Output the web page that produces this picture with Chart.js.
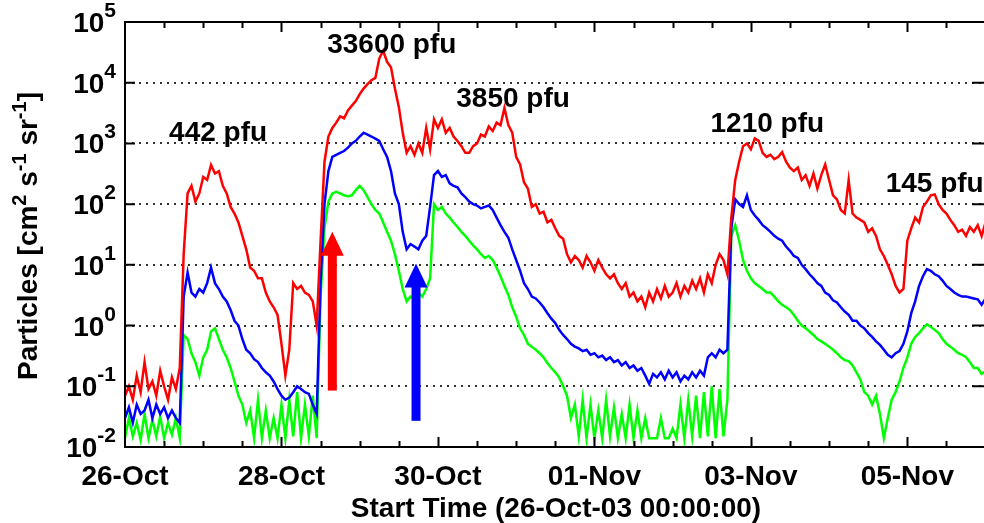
<!DOCTYPE html>
<html>
<head>
<meta charset="utf-8">
<script src="https://cdn.jsdelivr.net/npm/chart.js@4/dist/chart.umd.min.js"></script>
<style>
  html, body { margin: 0; padding: 0; background: #fff; }
  #chart { display: block; }
</style>
</head>
<body>
<canvas id="chart" width="984" height="523"></canvas>
<script>
// sample times, in days after 26-Oct-03 00:00
const sampleDays = [
  0.00,0.05,0.10,0.15,0.20,0.25,0.30,0.35,0.40,0.45,0.50,0.55,0.60,0.65,0.70,0.75,0.80,0.85,0.90,0.95,
  1.00,1.05,1.10,1.15,1.20,1.25,1.30,1.35,1.40,1.45,1.50,1.55,1.60,1.65,1.70,1.75,1.80,1.85,1.90,1.95,
  2.00,2.05,2.10,2.15,2.20,2.25,2.30,2.35,2.40,2.45,2.50,2.55,2.60,2.65,2.70,2.75,2.80,2.85,2.90,2.95,
  3.00,3.05,3.10,3.15,3.20,3.25,3.30,3.35,3.40,3.45,3.50,3.55,3.60,3.65,3.70,3.75,3.80,3.85,3.90,3.95,
  4.00,4.05,4.10,4.15,4.20,4.25,4.30,4.35,4.40,4.45,4.50,4.55,4.60,4.65,4.70,4.75,4.80,4.85,4.90,4.95,
  5.00,5.05,5.10,5.15,5.20,5.25,5.30,5.35,5.40,5.45,5.50,5.55,5.60,5.65,5.70,5.75,5.80,5.85,5.90,5.95,
  6.00,6.05,6.10,6.15,6.20,6.25,6.30,6.35,6.40,6.45,6.50,6.55,6.60,6.65,6.70,6.75,6.80,6.85,6.90,6.95,
  7.00,7.05,7.10,7.15,7.20,7.25,7.30,7.35,7.40,7.45,7.50,7.55,7.60,7.65,7.70,7.75,7.80,7.85,7.90,7.95,
  8.00,8.05,8.10,8.15,8.20,8.25,8.30,8.35,8.40,8.45,8.50,8.55,8.60,8.65,8.70,8.75,8.80,8.85,8.90,8.95,
  9.00,9.05,9.10,9.15,9.20,9.25,9.30,9.35,9.40,9.45,9.50,9.55,9.60,9.65,9.70,9.75,9.80,9.85,9.90,9.95,
  10.00,10.05,10.10,10.15,10.20,10.25,10.30,10.35,10.40,10.45,10.50,10.55,10.60,10.65,10.70,10.75,10.80,10.85,10.90,10.95,
  11.00
];

// particle flux, cm-2 s-1 sr-1 (red = >10 MeV, blue, green = higher energies)
const redFlux = [
  0.07,0.1,0.06,0.15,0.08,0.25,0.09,0.12,0.07,0.18,0.1,0.06,0.14,0.09,0.2,15,150,200,110,150,
  280,250,442,320,350,200,150,90,70,50,30,18,9,8,6,6,3.5,2.5,2,1.5,
  0.5,0.15,0.4,5,4,4.5,3.5,3.2,2.5,1,25,500,1300,1800,2200,2800,2600,3500,4200,5000,
  6500,8000,9500,11000,12000,25000,33600,22000,18000,8000,4000,1500,700,900,650,1000,700,1800,800,2500,
  1800,2500,1500,1800,1300,1100,900,700,700,900,1000,1400,1300,1900,1600,2200,2000,3850,2000,1500,
  600,450,230,180,90,100,70,75,50,55,40,30,27,15,11,14,12,9,14,11,
  8,12,9,7,6,7,5,4,5,3,3.5,2.5,3,2,3.5,2.5,4,2.8,4.5,3,
  3.5,5,3,4.5,3.5,5.5,4,6,3.5,7,5,10,15,12,7,60,250,500,900,1000,
  800,1210,1100,700,600,650,550,600,720,500,400,350,400,250,300,200,320,180,300,450,
  250,140,120,80,70,250,70,60,55,50,35,40,30,18,14,10,7,4.5,3.5,4,
  25,40,60,50,90,110,140,145,100,80,70,55,45,35,38,30,42,35,45,30,
  50
];

const blueFlux = [
  0.03,0.045,0.025,0.05,0.035,0.04,0.06,0.03,0.05,0.035,0.045,0.03,0.04,0.03,0.025,3,7.5,3.5,3,4,
  3.5,5,9,5,4,3,2.5,1.8,1.2,1,0.6,0.4,0.35,0.28,0.25,0.2,0.17,0.15,0.12,0.09,
  0.07,0.06,0.065,0.08,0.1,0.09,0.08,0.075,0.05,0.035,5,100,350,600,650,700,750,850,1000,1100,
  1300,1500,1400,1300,1200,1100,800,600,350,150,100,35,18,22,20,18,25,30,90,300,
  350,280,300,220,200,190,150,130,110,100,95,85,90,95,80,60,45,35,28,18,
  12,8,5,4,3,2.8,2.4,2,1.6,1.3,1.1,0.85,0.7,0.6,0.5,0.45,0.42,0.38,0.4,0.33,
  0.35,0.3,0.32,0.27,0.3,0.25,0.27,0.22,0.25,0.2,0.22,0.18,0.2,0.15,0.11,0.16,0.14,0.17,0.13,0.18,
  0.14,0.17,0.12,0.15,0.13,0.17,0.14,0.18,0.15,0.3,0.35,0.3,0.4,0.35,0.4,40,120,100,90,140,
  80,65,55,45,40,35,30,27,25,20,17,14,13,10,8.5,7,6,5,4.5,3.5,
  3.2,2.6,2.4,2,1.7,1.5,1.2,1.2,1,0.9,0.75,0.65,0.55,0.48,0.4,0.33,0.3,0.35,0.38,0.5,
  0.8,1.6,2.5,4.5,6.5,8.5,8,7,6.5,5.5,4.5,4,3.5,3.2,3,3,2.9,2.8,2.7,2.2,
  2.8
];

const greenFlux = [
  0.014,0.03,0.015,0.025,0.013,0.035,0.014,0.028,0.015,0.032,0.014,0.025,0.016,0.03,0.014,0.7,0.6,0.35,0.25,0.15,
  0.3,0.4,0.8,0.9,0.6,0.4,0.3,0.2,0.12,0.07,0.05,0.025,0.04,0.014,0.06,0.014,0.04,0.014,0.03,0.014,
  0.05,0.014,0.06,0.015,0.08,0.014,0.05,0.015,0.07,0.014,3,40,110,150,160,150,140,135,140,170,
  200,170,130,100,80,70,50,35,25,15,8,4,2.5,3,2.8,3.5,3,4,6,100,
  80,90,70,60,50,42,35,30,25,21,18,15,13,14,12,9,6.5,4.5,3.2,2,
  1.4,0.9,0.7,0.5,0.45,0.4,0.35,0.3,0.24,0.2,0.17,0.14,0.1,0.07,0.03,0.05,0.015,0.06,0.014,0.05,
  0.014,0.04,0.014,0.06,0.015,0.045,0.014,0.035,0.014,0.05,0.014,0.04,0.014,0.03,0.014,0.014,0.014,0.03,0.014,0.014,
  0.02,0.014,0.05,0.014,0.06,0.015,0.07,0.014,0.08,0.015,0.1,0.014,0.09,0.015,0.06,30,45,25,12,8,
  6,5,4.5,4,3.5,3.5,3,2.5,2.2,2,1.8,1.5,1.2,1,0.9,0.8,0.7,0.6,0.55,0.5,
  0.45,0.4,0.35,0.3,0.27,0.26,0.22,0.17,0.13,0.08,0.07,0.05,0.07,0.035,0.014,0.03,0.06,0.08,0.12,0.2,
  0.3,0.5,0.65,0.75,0.9,1.05,0.95,0.85,0.75,0.6,0.5,0.45,0.4,0.35,0.33,0.3,0.25,0.2,0.2,0.16,
  0.18
];

// axes
const xTickDays = [0, 2, 4, 6, 8, 10];
const xTickLabels = ['26-Oct', '28-Oct', '30-Oct', '01-Nov', '03-Nov', '05-Nov'];
const yTickValues = [1e-2, 1e-1, 1, 10, 100, 1e3, 1e4, 1e5];

// peak flux labels (anchor: centre x, baseline y)
const peakLabels = ['442 pfu', '33600 pfu', '3850 pfu', '1210 pfu', '145 pfu'];
const peakDays = [1.19, 3.41, 4.96, 8.21, 10.35];
const peakFlux = [1080, 30700, 4040, 1570, 157];

// arrows
const arrowDays = [2.65, 3.72];
const arrowFrom = [0.085, 0.027];
const arrowTo = [35, 10.5];
const arrowColors = ['#ff0000', '#0000ff'];

const FONT = '"Liberation Sans", Arial, Helvetica, sans-serif';

function toPoints(vals) {
  return sampleDays.map((d, i) => ({ x: d, y: vals[i] }));
}

function text(ctx, str, x, y, size, align) {
  ctx.font = 'bold ' + size + 'px ' + FONT;
  ctx.textAlign = align || 'left';
  ctx.textBaseline = 'alphabetic';
  ctx.fillStyle = '#000';
  ctx.fillText(str, x, y);
}

const decorations = {
  id: 'decorations',
  afterDatasetsDraw(chart) {
    const ctx = chart.ctx;
    const xs = chart.scales.x, ys = chart.scales.y;
    ctx.save();
    // arrows
    arrowDays.forEach((d, i) => {
      const cx = xs.getPixelForValue(d);
      const yb = ys.getPixelForValue(arrowFrom[i]);
      const yt = ys.getPixelForValue(arrowTo[i]);
      const headLen = 24, headW = 23, shaftW = 9;
      ctx.fillStyle = arrowColors[i];
      ctx.fillRect(cx - shaftW / 2, yt + headLen - 1, shaftW, yb - yt - headLen + 1);
      ctx.beginPath();
      ctx.moveTo(cx, yt);
      ctx.lineTo(cx + headW / 2, yt + headLen);
      ctx.lineTo(cx - headW / 2, yt + headLen);
      ctx.closePath();
      ctx.fill();
    });
    ctx.restore();
  },
  afterDraw(chart) {
    const ctx = chart.ctx;
    const a = chart.chartArea;
    const xs = chart.scales.x, ys = chart.scales.y;
    ctx.save();
    ctx.strokeStyle = '#000';
    ctx.lineWidth = 2;
    // frame
    ctx.beginPath();
    ctx.moveTo(a.right + 2, a.top);
    ctx.lineTo(a.left, a.top);
    ctx.lineTo(a.left, a.bottom);
    ctx.lineTo(a.right + 2, a.bottom);
    ctx.stroke();
    // x ticks, every 12 h, longer every 2 days
    ctx.beginPath();
    for (let h = 12; h <= 11 * 24; h += 12) {
      const px = Math.round(xs.getPixelForValue(h / 24)) + 0.5;
      if (px > a.right) break;
      const len = (h % 48 === 0) ? 10 : 6;
      ctx.moveTo(px, a.bottom);
      ctx.lineTo(px, a.bottom - len);
      ctx.moveTo(px, a.top);
      ctx.lineTo(px, a.top + len);
    }
    // y ticks, both sides
    yTickValues.forEach(v => {
      const py = ys.getPixelForValue(v);
      ctx.moveTo(a.left, py);
      ctx.lineTo(a.left + 10, py);
      ctx.moveTo(a.right, py);
      ctx.lineTo(a.right - 12, py);
    });
    ctx.stroke();

    // x tick labels
    xTickDays.forEach((d, i) => {
      text(ctx, xTickLabels[i], xs.getPixelForValue(d), 485, 28, 'center');
    });
    // y tick labels 10^n
    yTickValues.forEach(v => {
      const py = ys.getPixelForValue(v);
      const exp = String(Math.round(Math.log10(v)));
      ctx.font = 'bold 21px ' + FONT;
      const we = ctx.measureText(exp).width;
      const right = 116;
      text(ctx, exp, right, py - 5, 21, 'right');
      text(ctx, '10', right - we, py + 10, 28, 'right');
    });
    // axis titles
    text(ctx, 'Start Time (26-Oct-03 00:00:00)', 556, 517, 28, 'center');

    const parts = [['Particles [cm', 0], ['2', 1], [' s', 0], ['-1', 1], [' sr', 0], ['-1', 1], [']', 0]];
    let total = 0;
    parts.forEach(p => {
      ctx.font = 'bold ' + (p[1] ? 20 : 28) + 'px ' + FONT;
      total += ctx.measureText(p[0]).width;
    });
    ctx.save();
    ctx.translate(37, 236);
    ctx.rotate(-Math.PI / 2);
    let pos = -total / 2;
    parts.forEach(p => {
      const size = p[1] ? 20 : 28;
      text(ctx, p[0], pos, p[1] ? -11 : 0, size, 'left');
      pos += ctx.measureText(p[0]).width;
    });
    ctx.restore();

    // peak labels
    peakLabels.forEach((s, i) => {
      text(ctx, s, xs.getPixelForValue(peakDays[i]), ys.getPixelForValue(peakFlux[i]), 28, 'center');
    });
    ctx.restore();
  }
};

Chart.defaults.font.family = FONT;

new Chart(document.getElementById('chart'), {
  type: 'line',
  data: {
    datasets: [
      { label: 'red', data: toPoints(redFlux), borderColor: '#ff0000' },
      { label: 'blue', data: toPoints(blueFlux), borderColor: '#0000ff' },
      { label: 'green', data: toPoints(greenFlux), borderColor: '#00ff00' }
    ]
  },
  options: {
    responsive: false,
    animation: false,
    devicePixelRatio: 1,
    layout: { padding: { left: 125, right: 0, top: 22, bottom: 76 } },
    elements: {
      line: { borderWidth: 2.5, tension: 0, fill: false },
      point: { radius: 0 }
    },
    plugins: { legend: { display: false }, tooltip: { enabled: false } },
    scales: {
      x: {
        type: 'linear',
        min: 0,
        max: 10.98,
        display: false
      },
      y: {
        type: 'logarithmic',
        min: 0.01,
        max: 1e5,
        afterBuildTicks: axis => { axis.ticks = yTickValues.map(v => ({ value: v })); },
        ticks: { display: false },
        grid: {
          drawTicks: false,
          lineWidth: 2,
          color: c => (c.tick && (c.tick.value === 1e5 || c.tick.value === 0.01)) ? 'rgba(0,0,0,0)' : '#333'
        },
        border: { display: false, dash: [2, 5] }
      }
    }
  },
  plugins: [decorations]
});
</script>
</body>
</html>
